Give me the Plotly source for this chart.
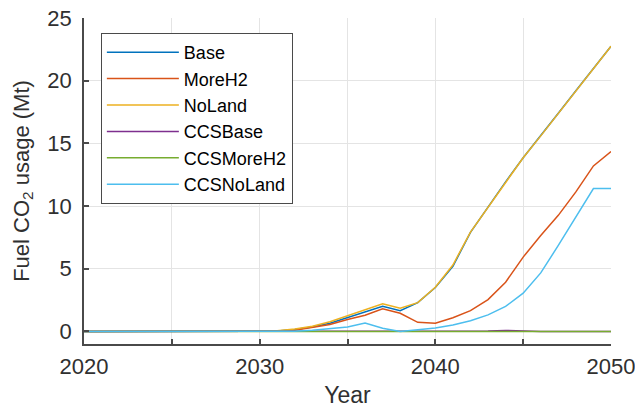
import plotly.graph_objects as go

years = list(range(2020, 2051))

base = [0]*11 + [0.03, 0.15, 0.35, 0.65, 1.1, 1.5, 2.0, 1.65, 2.3, 3.5,
                 5.2, 7.9, 9.93, 11.93, 13.85, 15.6, 17.4, 19.2, 21.0, 22.75]
moreh2 = [0]*11 + [0.02, 0.1, 0.3, 0.55, 0.95, 1.3, 1.8, 1.45, 0.73, 0.65,
                   1.1, 1.66, 2.54, 3.93, 5.93, 7.66, 9.26, 11.13, 13.2, 14.35]
noland = [0]*11 + [0.05, 0.2, 0.42, 0.78, 1.25, 1.72, 2.2, 1.85, 2.3, 3.53,
                   5.3, 7.93, 9.93, 11.93, 13.85, 15.6, 17.4, 19.2, 21.0, 22.75]
ccsbase = [0]*11 + [0.0, 0.0, 0.01, 0.02, 0.03, 0.04, 0.05, 0.05, 0.04, 0.02,
                    0.01, 0.01, 0.03, 0.08, 0.02, 0.0, 0.0, 0.0, 0.0, 0.0]
ccsmoreh2 = [0]*11 + [0.0, 0.01, 0.02, 0.03, 0.03, 0.03, 0.03, 0.02, 0.02, 0.01,
                      0.01, 0.01, 0.02, 0.05, 0.01, 0.0, 0.0, 0.0, 0.01, 0.0]
ccsnoland = [0]*11 + [0.0, 0.02, 0.1, 0.2, 0.36, 0.68, 0.25, 0.0, 0.13, 0.28,
                      0.52, 0.86, 1.32, 2.0, 3.05, 4.67, 6.86, 9.13, 11.4, 11.4]

names = ["Base", "MoreH2", "NoLand", "CCSBase", "CCSMoreH2", "CCSNoLand"]
series = [base, moreh2, noland, ccsbase, ccsmoreh2, ccsnoland]
colors = ["#0072BD", "#D95319", "#EDB120", "#7E2F8E", "#77AC30", "#4DBEEE"]

xtick_major = [2020, 2030, 2040, 2050]
xtick_minor = [2025, 2035, 2045]
ytick_vals = [0, 5, 10, 15, 20, 25]

fig = go.Figure()
for n, s, c in zip(names, series, colors):
    fig.add_trace(go.Scatter(x=years, y=s, name=n, mode="lines",
                             line=dict(color=c, width=1.5)))

font_family = "Liberation Sans, Arial, sans-serif"
txt = "#303030"
axc = "#4a4a4a"
grid = "#e4e4e4"

fig.update_layout(
    width=635, height=408,
    margin=dict(l=84, r=24, t=18, b=64, autoexpand=False),
    paper_bgcolor="white", plot_bgcolor="white",
    font=dict(family=font_family, color=txt, size=22),
    legend=dict(x=0.032, y=0.954, xanchor="left", yanchor="top",
                bgcolor="white", bordercolor=axc, borderwidth=1,
                font=dict(size=18, color="black"), itemwidth=72,
                tracegroupgap=0),
    xaxis=dict(range=[2020, 2050], tickvals=xtick_major,
               ticks="inside", ticklen=5, tickwidth=1.5, tickcolor=axc,
               minor=dict(tickvals=xtick_minor, ticks="inside", ticklen=5,
                          tickwidth=1.5, tickcolor=axc, showgrid=True,
                          gridcolor=grid, gridwidth=1),
               showline=True, linecolor=axc, linewidth=1.5,
               showgrid=True, gridcolor=grid, gridwidth=1,
               zeroline=False, mirror=False, automargin=False,
               ticklabelstandoff=2, ticklabeloverflow="allow",
               title=dict(text="Year", font=dict(size=23, color=txt), standoff=18),
               tickfont=dict(size=22, color=txt)),
    yaxis=dict(range=[-1, 25], tickvals=ytick_vals,
               ticks="inside", ticklen=5, tickwidth=1.5, tickcolor=axc,
               showline=True, linecolor=axc, linewidth=1.5,
               showgrid=True, gridcolor=grid, gridwidth=1,
               zeroline=False, mirror=False, automargin=False,
               ticklabelstandoff=6, ticklabeloverflow="allow",
               title=dict(text="Fuel CO<sub>2</sub> usage (Mt)",
                          font=dict(size=22, color=txt), standoff=12),
               tickfont=dict(size=22, color=txt)),
)

fig.write_html("out.html", config={"displayModeBar": False},
               post_script="document.body.style.margin='0';document.body.style.padding='0';")
